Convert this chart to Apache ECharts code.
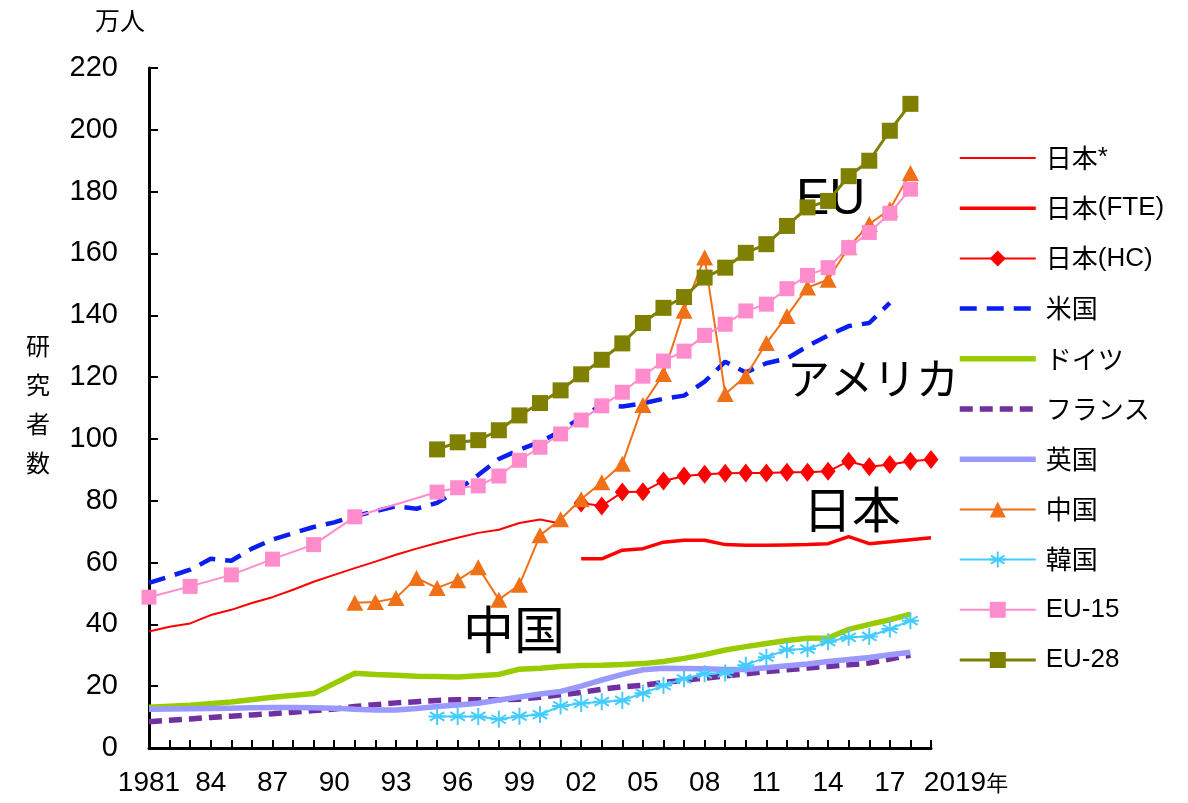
<!DOCTYPE html>
<html>
<head>
<meta charset="utf-8">
<script src="https://cdn.jsdelivr.net/npm/echarts@6/dist/echarts.min.js"></script>
<style>
  html, body { margin: 0; padding: 0; background: #fff; }
  #chart { width: 1188px; height: 803px; }
</style>
</head>
<body>
<div id="chart"></div>
<script>
// Number of researchers by country (unit: 10,000 persons), 1981-2019
const years = ['1981','1982','1983','1984','1985','1986','1987','1988','1989','1990',
  '1991','1992','1993','1994','1995','1996','1997','1998','1999','2000',
  '2001','2002','2003','2004','2005','2006','2007','2008','2009','2010',
  '2011','2012','2013','2014','2015','2016','2017','2018','2019'];

const yTicks = { min: 0, max: 220, step: 20 };

// Each series: first year + yearly values (null = no survey that year)
const japanStarStart = 1981;
const japanStar = [37.7, 39.2, 40.3, 43.0, 44.7, 46.9, 48.8, 51.2, 53.8, 56.0,
  58.2, 60.3, 62.5, 64.5, 66.3, 68.0, 69.6, 70.6, 72.8, 73.9, 72.6];

const japanFteStart = 2002;
const japanFte = [61.2, 61.2, 64.0, 64.5, 66.6, 67.2, 67.2, 65.8, 65.6, 65.6,
  65.7, 65.8, 66.1, 68.4, 66.1, 66.7, 67.4, 68.0];

const japanHcStart = 2002;
const japanHc = [79.3, 78.3, 82.8, 82.9, 86.4, 88.0, 88.6, 88.9, 89.0, 89.0,
  89.2, 89.2, 89.5, 92.8, 91.0, 91.7, 92.8, 93.3];

const usaStart = 1981;
const usa = [53.4, 55.5, 57.7, 61.2, 60.6, 64.5, 67.4, 69.5, 71.5, 73.0,
  75.0, 76.6, 78.2, 77.4, 79.3, 83.5, 88.3, 93.5, 96.5, 99.0,
  102.5, 107.0, 111.0, 110.5, 111.5, 113.0, 114.0, 118.5, 125.0, 121.5,
  124.5, 126.0, 130.0, 133.5, 136.5, 137.5, 144.0];

const germanyStart = 1981;
const germany = [13.2, null, 13.8, null, 14.9, null, 16.4, null, 17.6, null,
  24.2, 23.8, 23.5, 23.2, 23.1, 23.0, 23.4, 23.8, 25.5, 25.8,
  26.4, 26.7, 26.8, 27.0, 27.3, 28.0, 29.0, 30.2, 31.7, 32.8,
  33.8, 34.8, 35.5, 35.6, 38.4, 40.0, 41.5, 43.3];

const franceStart = 1981;
const france = [8.5, 9.0, 9.4, 9.9, 10.3, 10.7, 11.1, 11.6, 12.1, 12.6,
  13.4, 14.0, 14.6, 15.0, 15.4, 15.6, 15.6, 15.6, 15.8, 16.4,
  17.2, 18.0, 19.0, 19.8, 20.3, 21.2, 21.9, 22.6, 23.3, 24.0,
  24.7, 25.3, 25.9, 26.4, 26.9, 27.5, 28.8, 30.0];

const ukStart = 1981;
const uk = [12.5, 12.6, 12.7, 12.8, 12.9, 13.0, 13.1, 13.1, 13.0, 12.9,
  12.5, 12.3, 12.3, 12.8, 13.4, 13.9, 14.5, 15.5, 16.5, 17.5,
  18.3, 20.0, 22.0, 23.8, 25.3, 25.8, 25.7, 25.6, 25.4, 25.4,
  26.0, 26.6, 27.2, 28.0, 28.6, 29.3, 30.2, 31.0];

const chinaStart = 1991;
const china = [47.0, 47.2, 48.5, 55.0, 51.8, 54.3, 58.5, 48.0, 52.8, 68.8,
  74.0, 80.5, 86.0, 92.0, 111.0, 121.0, 141.5, 158.7, 114.5, 120.3,
  131.0, 139.8, 149.0, 151.5, 162.0, 169.5, 174.3, 186.0];

const koreaStart = 1995;
const korea = [10.2, 10.2, 10.2, 9.3, 10.3, 10.8, 13.6, 14.4, 15.0, 15.4,
  17.7, 20.2, 22.4, 24.0, 24.3, 26.8, 29.4, 31.8, 32.0, 34.4,
  35.8, 36.1, 38.5, 41.2];

const eu15Start = 1981;
const eu15 = [48.8, null, 52.3, null, 56.0, null, 61.1, null, 65.8, null,
  74.8, null, null, null, 82.8, 84.2, 84.8, 88.0, 93.1, 97.3,
  101.6, 106.1, 110.7, 115.1, 120.3, 125.2, 128.4, 133.5, 137.1, 141.4,
  143.6, 148.6, 152.9, 155.4, 161.9, 166.8, 173.0, 180.8];

const eu28Start = 1995;
const eu28 = [96.6, 98.9, 99.6, 102.8, 107.6, 111.6, 115.7, 120.9, 125.6, 130.9,
  137.5, 142.4, 145.9, 152.2, 155.4, 160.2, 163.0, 168.9, 174.9, 177.0,
  185.0, 190.0, 199.7, 208.4];

// Align a series to the full year axis
function onYears(start, values) {
  const out = years.map(() => null);
  const offset = years.indexOf(String(start));
  values.forEach((v, i) => { out[offset + i] = v; });
  return out;
}

const NUM_FONT = '"Liberation Sans Narrow", "Liberation Sans", Arial, sans-serif';
const LATIN_FONT = '"Liberation Sans", Arial, sans-serif';
const JP_FONT = '"Noto Sans CJK JP", sans-serif';

const asterisk = 'path://M10,0L10,20M1.5,5L18.5,15M1.5,15L18.5,5M0,10L20,10';

// line series; `lw` is the stroke width, also used for the legend sample
function lineSeries(name, data, color, lw, extra) {
  return Object.assign({
    name: name,
    type: 'line',
    data: data,
    connectNulls: true,
    symbol: 'none',
    showSymbol: false,
    color: color,
    lineStyle: { color: color, width: lw },
    itemStyle: { color: color },
    emphasis: { disabled: true }
  }, extra || {});
}

const series = [
  lineSeries('日本*', onYears(japanStarStart, japanStar), '#ff0000', 2),
  lineSeries('日本(FTE)', onYears(japanFteStart, japanFte), '#ff0000', 3.5),
  lineSeries('日本(HC)', onYears(japanHcStart, japanHc), '#ff0000', 2,
    { symbol: 'diamond', showSymbol: true, symbolSize: [15, 19] }),
  lineSeries('米国', onYears(usaStart, usa), '#0a1ef0', 4.5,
    { lineStyle: { color: '#0a1ef0', width: 4.5, type: [17, 10] } }),
  lineSeries('ドイツ', onYears(germanyStart, germany), '#99cc00', 5.5),
  lineSeries('フランス', onYears(franceStart, france), '#7030a0', 5.5,
    { lineStyle: { color: '#7030a0', width: 5.5, type: [13, 7] } }),
  lineSeries('英国', onYears(ukStart, uk), '#9999ff', 5.5),
  lineSeries('中国', onYears(chinaStart, china), '#f07018', 2,
    { symbol: 'triangle', showSymbol: true, symbolSize: [17, 16] }),
  lineSeries('韓国', onYears(koreaStart, korea), '#44ccff', 2,
    { symbol: asterisk, showSymbol: true, symbolSize: 17,
      itemStyle: { color: '#44ccff', borderColor: '#44ccff', borderWidth: 2 } }),
  lineSeries('EU-15', onYears(eu15Start, eu15), '#ff8ccc', 2,
    { symbol: 'rect', showSymbol: true, symbolSize: 15 }),
  lineSeries('EU-28', onYears(eu28Start, eu28), '#7f7f00', 3,
    { symbol: 'rect', showSymbol: true, symbolSize: 16 })
];

// Legend entries: keep each sample's stroke width; plain lines get no marker
const legendItems = series.map(s => {
  const item = { name: s.name, lineStyle: { width: s.lineStyle.width } };
  if (s.symbol === 'none') item.itemStyle = { opacity: 0 };
  return item;
});

// Legend labels: kanji/kana in the Japanese face, Latin in a sans face
function legendLabel(name) {
  return name.split(/([\u3040-\u30ff\u4e00-\u9fff]+)/)
    .filter(s => s.length)
    .map(s => /[\u3040-\u30ff\u4e00-\u9fff]/.test(s) ? '{c|' + s + '}' : '{l|' + s + '}')
    .join('');
}

function yearLabel(value) {
  if (value === '2019') return '{end|2019}{nen|年}';
  const y = Number(value);
  if ((y - 1981) % 3 !== 0) return '';
  if (y === 1981) return '1981';
  return value.slice(2);
}

const chart = echarts.init(document.getElementById('chart'), null, { renderer: 'canvas' });

chart.setOption({
  animation: false,
  backgroundColor: '#ffffff',
  grid: { left: 149, right: 257, top: 68, bottom: 55, containLabel: false },
  xAxis: {
    type: 'category',
    data: years,
    boundaryGap: false,
    axisLine: { show: true, lineStyle: { color: '#000', width: 3 } },
    axisTick: { show: true, inside: true, length: 8, interval: 0, lineStyle: { color: '#000', width: 2 } },
    axisLabel: {
      interval: 0, margin: 21, color: '#000', fontSize: 28, fontFamily: NUM_FONT,
      formatter: yearLabel,
      rich: {
        end: { fontSize: 28, fontFamily: NUM_FONT, color: '#000', padding: [0, 0, 0, 70] },
        nen: { fontSize: 22, fontFamily: JP_FONT, color: '#000' }
      }
    },
    splitLine: { show: false }
  },
  yAxis: {
    type: 'value',
    min: yTicks.min, max: yTicks.max, interval: yTicks.step,
    axisLine: { show: true, lineStyle: { color: '#000', width: 3 } },
    axisTick: { show: true, inside: true, length: 9, lineStyle: { color: '#000', width: 2 } },
    axisLabel: { margin: 31, color: '#000', fontSize: 29, fontFamily: NUM_FONT },
    splitLine: { show: false }
  },
  legend: {
    orient: 'vertical',
    left: 957, top: 145,
    padding: 0,
    itemWidth: 76, itemHeight: 20, itemGap: 24.2,
    selectedMode: false,
    data: legendItems,
    formatter: legendLabel,
    textStyle: {
      color: '#000',
      padding: [0, 0, 0, 5],
      rich: {
        c: { fontFamily: JP_FONT, fontSize: 26, color: '#000', lineHeight: 20 },
        l: { fontFamily: LATIN_FONT, fontSize: 26, color: '#000', lineHeight: 20 }
      }
    }
  },
  graphic: [
    { type: 'text', left: 95, top: 8,
      style: { text: '万人', fontFamily: JP_FONT, fontSize: 25, fill: '#000' } },
    { type: 'text', left: 26, top: 326,
      style: { text: '研\n究\n者\n数', fontFamily: JP_FONT, fontSize: 24, lineHeight: 39, fill: '#000' } },
    { type: 'text', x: 796, y: 200,
      style: { text: 'EU', fontFamily: LATIN_FONT, fontSize: 50, fill: '#000', textVerticalAlign: 'middle' } },
    { type: 'text', x: 787, y: 379,
      style: { text: 'アメリカ', fontFamily: JP_FONT, fontSize: 43, fill: '#000', textVerticalAlign: 'middle' } },
    { type: 'text', x: 803, y: 509,
      style: { text: '日本', fontFamily: JP_FONT, fontSize: 49, fill: '#000', textVerticalAlign: 'middle' } },
    { type: 'text', x: 463, y: 630,
      style: { text: '中国', fontFamily: JP_FONT, fontSize: 51, fill: '#000', textVerticalAlign: 'middle' } }
  ],
  series: series
});
</script>
</body>
</html>
